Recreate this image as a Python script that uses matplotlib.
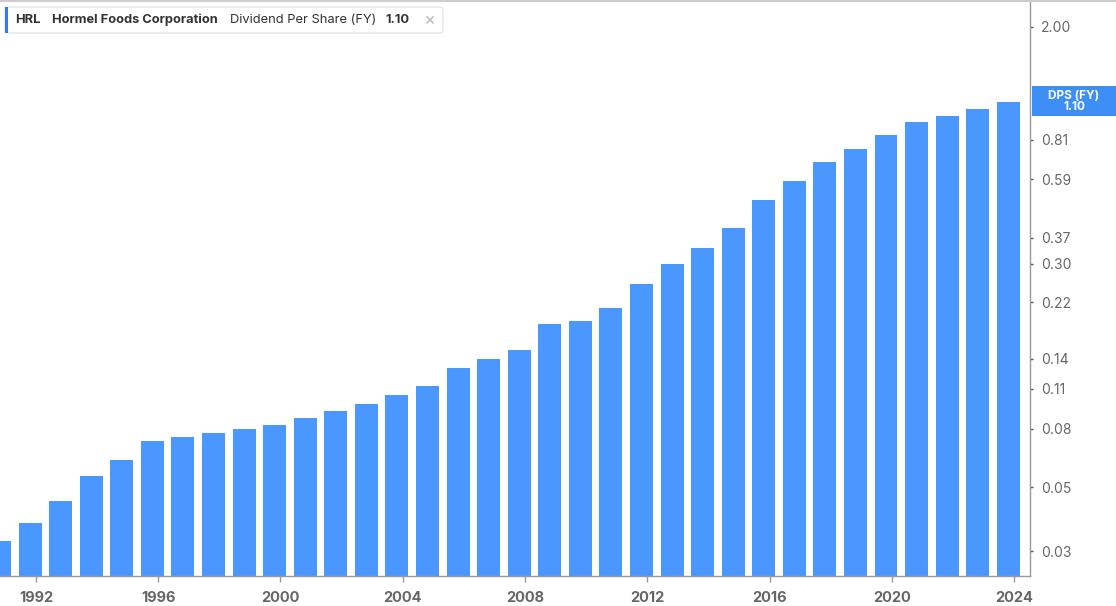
import matplotlib.pyplot as plt
from matplotlib.patches import FancyBboxPatch, Rectangle
from matplotlib.ticker import FixedLocator, NullLocator

plt.rcParams['font.family'] = ['Inter', 'DejaVu Sans']

years = list(range(1991, 2025))
dps = [0.0325, 0.0375, 0.045, 0.055, 0.0625, 0.0725, 0.075, 0.0775, 0.08, 0.0825,
       0.0875, 0.0925, 0.0975, 0.105, 0.1125, 0.13, 0.14, 0.15, 0.185, 0.19,
       0.21, 0.255, 0.30, 0.34, 0.40, 0.50, 0.58, 0.68, 0.75, 0.84,
       0.93, 0.98, 1.04, 1.10]
y_ticks = [0.03, 0.05, 0.08, 0.11, 0.14, 0.22, 0.30, 0.37, 0.59, 0.81, 2.00]
x_ticks = [1992, 1996, 2000, 2004, 2008, 2012, 2016, 2020, 2024]

bar_color = '#4a98ff'
text_gray = '#666666'

fig = plt.figure(figsize=(11.16, 6.06), dpi=100)
ax = fig.add_axes([0.0, 0.0495, 1030 / 1116, 0.9505])

# bars sit slightly left of the year tick, as in the source chart
ax.bar([y - 0.19 for y in years], dps, width=0.75, color=bar_color, zorder=2)
ax.set_yscale('log')
ax.set_ylim(0.0246, 2.48)
ax.set_xlim(1990.825, 2024.52)

ax.yaxis.tick_right()
ax.yaxis.set_major_locator(FixedLocator(y_ticks))
ax.yaxis.set_minor_locator(NullLocator())
ax.set_yticklabels(['%.2f' % v for v in y_ticks])
ax.tick_params(axis='y', length=2, width=1, color='#555555', labelsize=10,
               labelcolor=text_gray, pad=6)

ax.set_xticks(x_ticks)
ax.set_xticklabels([str(y) for y in x_ticks], fontweight='bold')
ax.tick_params(axis='x', length=4, width=1, color='#999999', labelsize=10.5,
               labelcolor=text_gray, pad=7)

for s in ['top', 'left']:
    ax.spines[s].set_visible(False)
for s in ['right', 'bottom']:
    ax.spines[s].set_color('#999999')
    ax.spines[s].set_linewidth(1)

# current value label on the right axis
ax.add_patch(Rectangle((1.0019, 0.7986), 0.0816, 0.0521, transform=ax.transAxes,
                       fc='#3d8ef7', ec='none', clip_on=False, zorder=5))
ax.annotate('DPS (FY)\n1.10', xy=(1.0427, 1.10), xycoords=('axes fraction', 'data'),
            ha='center', va='center', color='white', fontsize=8.5, fontweight='bold',
            linespacing=0.95, annotation_clip=False, zorder=6)

# legend box at top left
fig.patches.append(FancyBboxPatch((5 / 1116, 1 - 33 / 606), 438 / 1116, 26 / 606,
                                  boxstyle='round,pad=0,rounding_size=0.004',
                                  transform=fig.transFigure, fc='white',
                                  ec='#e6e6e6', lw=1, zorder=5))
fig.patches.append(Rectangle((5 / 1116, 1 - 33 / 606), 3 / 1116, 26 / 606,
                             transform=fig.transFigure, fc='#2f7df6', ec='none', zorder=6))
ty = 1 - 20 / 606
fs = 9.3
fig.text(15 / 1116, ty, 'HRL', fontsize=fs, fontweight='bold', color='#333333', va='center', zorder=7)
fig.text(52 / 1116, ty, 'Hormel Foods Corporation', fontsize=fs, fontweight='bold',
         color='#333333', va='center', zorder=7)
fig.text(230 / 1116, ty, 'Dividend Per Share (FY)', fontsize=fs, color='#333333',
         va='center', zorder=7)
fig.text(385 / 1116, ty, '1.10', fontsize=fs, fontweight='bold', color='#333333',
         va='center', zorder=7)
fig.text(423 / 1116, ty, '\u00d7', fontsize=13, color='#bbbbbb', va='center', zorder=7)

# top border line
fig.add_artist(plt.Line2D([0, 1], [0.999, 0.999], transform=fig.transFigure,
                          color='#cccccc', lw=1.5))

fig.savefig('out.png', dpi=100)
